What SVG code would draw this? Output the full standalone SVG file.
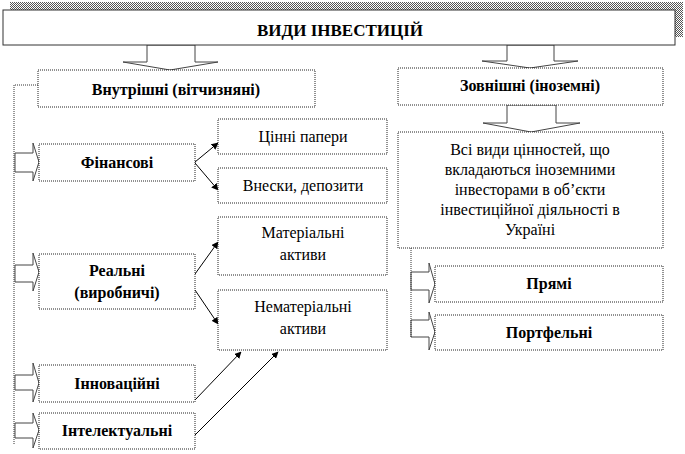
<svg xmlns="http://www.w3.org/2000/svg" width="685" height="454" viewBox="0 0 685 454">
<defs>
<marker id="ah" viewBox="0 0 10 10" refX="9" refY="5" markerWidth="7" markerHeight="7" markerUnits="userSpaceOnUse" orient="auto">
<path d="M0,0 L10,5 L0,10 z" fill="#000"/>
</marker>
<pattern id="dith" width="2" height="2" patternUnits="userSpaceOnUse">
<rect width="2" height="2" fill="#fff"/>
<rect width="1" height="1" fill="#555"/>
<rect x="1" y="1" width="1" height="1" fill="#555"/>
</pattern>
</defs>
<rect width="685" height="454" fill="#fff"/>

<g id="connectors">
<g fill="#fff" stroke="#444" stroke-width="1">
<polygon points="147,45 195,45 195,62 218,62 170,70 123,62 147,62"/>
<polygon points="507,45 554,45 554,61 578,61 530,68 482,61 507,61"/>
<polygon points="507,105 556,105 556,123 580,123 531,132 483,123 507,123"/>
<polygon points="15,153 33,153 33,143 39,162 33,181 33,172 15,172"/>
<polygon points="15,265 33,265 33,253 39,272 33,291 33,282 15,282"/>
<polygon points="15,375 33,375 33,363 39,383 33,402 33,390 15,390"/>
<polygon points="15,423 33,423 33,413 39,430 33,448 33,438 15,438"/>
<polygon points="411,272 429,272 429,263 435,284 429,303 429,290 411,290"/>
<polygon points="411,320 429,320 429,312 435,332 429,350 429,337 411,337"/>
</g>
<g fill="none" stroke="#333" stroke-width="1" stroke-dasharray="1 1">
<polyline points="38,85 14,85 14,445"/>
<polyline points="411,248 411,337"/>
</g>
<g fill="none" stroke="#000" stroke-width="1" marker-end="url(#ah)">
<line x1="195" y1="162" x2="218" y2="143"/>
<line x1="195" y1="163" x2="218" y2="190"/>
<line x1="195" y1="274" x2="218" y2="242"/>
<line x1="195" y1="290" x2="218" y2="324"/>
<line x1="195" y1="400" x2="241" y2="352"/>
<line x1="195" y1="435" x2="278" y2="352"/>
</g>
</g>

<g id="title">
<rect x="10" y="2" width="673" height="35" fill="url(#dith)"/>
<rect x="3" y="10" width="672" height="35" fill="#fff" stroke="#333"/>
<text x="340" y="36" font-family="Liberation Serif" font-size="17" font-weight="bold" text-anchor="middle">ВИДИ ІНВЕСТИЦІЙ</text>
</g>

<g id="vnutrishni">
<rect x="38" y="70" width="277" height="37" fill="#fff" stroke="#222" stroke-dasharray="1 1"/>
<text x="176" y="95" font-family="Liberation Serif" font-size="16" font-weight="bold" text-anchor="middle">Внутрішні (вітчизняні)</text>
</g>

<g id="zovnishni">
<rect x="398" y="68" width="265" height="37" fill="#fff" stroke="#222" stroke-dasharray="1 1"/>
<text x="530" y="91" font-family="Liberation Serif" font-size="16" font-weight="bold" text-anchor="middle">Зовнішні (іноземні)</text>
</g>

<g id="finansovi">
<rect x="39" y="144" width="156" height="37" fill="#fff" stroke="#222" stroke-dasharray="1 1"/>
<text x="117" y="168" font-family="Liberation Serif" font-size="16" font-weight="bold" text-anchor="middle">Фінансові</text>
</g>

<g id="cinni">
<rect x="218" y="119" width="169" height="35" fill="#fff" stroke="#222" stroke-dasharray="1 1"/>
<text x="303" y="142" font-family="Liberation Serif" font-size="16" text-anchor="middle">Цінні папери</text>
</g>

<g id="vnesky">
<rect x="218" y="168" width="169" height="35" fill="#fff" stroke="#222" stroke-dasharray="1 1"/>
<text x="303" y="191" font-family="Liberation Serif" font-size="16" text-anchor="middle">Внески, депозити</text>
</g>

<g id="realni">
<rect x="39" y="254" width="156" height="55" fill="#fff" stroke="#222" stroke-dasharray="1 1"/>
<text x="117" y="276" font-family="Liberation Serif" font-size="16" font-weight="bold" text-anchor="middle">Реальні</text>
<text x="117" y="298" font-family="Liberation Serif" font-size="16" font-weight="bold" text-anchor="middle">(виробничі)</text>
</g>

<g id="materialni">
<rect x="218" y="217" width="169" height="58" fill="#fff" stroke="#222" stroke-dasharray="1 1"/>
<text x="303" y="238" font-family="Liberation Serif" font-size="16" text-anchor="middle">Матеріальні</text>
<text x="303" y="260" font-family="Liberation Serif" font-size="16" text-anchor="middle">активи</text>
</g>

<g id="nematerialni">
<rect x="218" y="290" width="169" height="60" fill="#fff" stroke="#222" stroke-dasharray="1 1"/>
<text x="303" y="312" font-family="Liberation Serif" font-size="16" text-anchor="middle">Нематеріальні</text>
<text x="303" y="334" font-family="Liberation Serif" font-size="16" text-anchor="middle">активи</text>
</g>

<g id="innovaciyni">
<rect x="39" y="365" width="156" height="37" fill="#fff" stroke="#222" stroke-dasharray="1 1"/>
<text x="117" y="389" font-family="Liberation Serif" font-size="16" font-weight="bold" text-anchor="middle">Інноваційні</text>
</g>

<g id="intelektualni">
<rect x="39" y="413" width="156" height="36" fill="#fff" stroke="#222" stroke-dasharray="1 1"/>
<text x="117" y="436" font-family="Liberation Serif" font-size="16" font-weight="bold" text-anchor="middle">Інтелектуальні</text>
</g>

<g id="vsi">
<rect x="398" y="132" width="265" height="116" fill="#fff" stroke="#222" stroke-dasharray="1 1"/>
<text x="530" y="155" font-family="Liberation Serif" font-size="16" text-anchor="middle">Всі види цінностей, що</text>
<text x="530" y="175" font-family="Liberation Serif" font-size="16" text-anchor="middle">вкладаються іноземними</text>
<text x="530" y="195" font-family="Liberation Serif" font-size="16" text-anchor="middle">інвесторами в об’єкти</text>
<text x="530" y="215" font-family="Liberation Serif" font-size="16" text-anchor="middle">інвестиційної діяльності в</text>
<text x="530" y="235" font-family="Liberation Serif" font-size="16" text-anchor="middle">Україні</text>
</g>

<g id="pryami">
<rect x="435" y="266" width="228" height="36" fill="#fff" stroke="#222" stroke-dasharray="1 1"/>
<text x="549" y="289" font-family="Liberation Serif" font-size="16" font-weight="bold" text-anchor="middle">Прямі</text>
</g>

<g id="portfelni">
<rect x="435" y="315" width="228" height="35" fill="#fff" stroke="#222" stroke-dasharray="1 1"/>
<text x="549" y="338" font-family="Liberation Serif" font-size="16" font-weight="bold" text-anchor="middle">Портфельні</text>
</g>
</svg>
